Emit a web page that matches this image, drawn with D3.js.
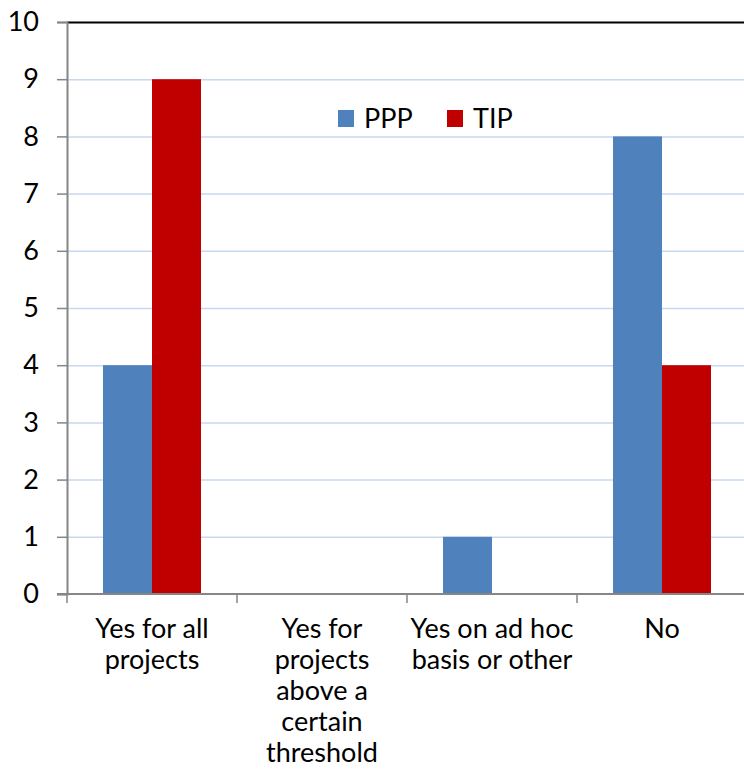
<!DOCTYPE html>
<html>
<head>
<meta charset="utf-8">
<script src="https://cdn.jsdelivr.net/npm/d3@7"></script>
<style>
  body { margin: 0; background: #fff; }
  svg { display: block; font-family: Lato, "Open Sans", sans-serif; }
</style>
</head>
<body>
<div id="chart"></div>
<script>
const categories = [
  ['Yes for all', 'projects'],
  ['Yes for', 'projects', 'above a', 'certain', 'threshold'],
  ['Yes on ad hoc', 'basis or other'],
  ['No']
];
const series = ['PPP', 'TIP'];
const pppValues = [4, 0, 1, 8];
const tipValues = [9, 0, 0, 4];
const yTicks = [0, 1, 2, 3, 4, 5, 6, 7, 8, 9, 10];

const colors = { PPP: '#4f81bd', TIP: '#c00000' };

const width = 744;
const height = 781;
const plot = { left: 67, top: 22, right: 747, bottom: 594 };
const fontSize = 27;

const svg = d3.select('#chart')
  .append('svg')
  .attr('width', width)
  .attr('height', height);

const x = d3.scaleBand()
  .domain(d3.range(categories.length))
  .range([plot.left, plot.right])
  .paddingInner(0)
  .paddingOuter(0);

const xInner = d3.scaleBand()
  .domain(series)
  .range([0, x.bandwidth()])
  .paddingInner(0)
  .paddingOuter(0.735);

const y = d3.scaleLinear()
  .domain([0, 10])
  .range([plot.bottom, plot.top]);

// gridlines
svg.append('g')
  .selectAll('line')
  .data(yTicks.filter(d => d > 0))
  .join('line')
  .attr('x1', plot.left)
  .attr('x2', plot.right)
  .attr('y1', d => y(d) + 0.5)
  .attr('y2', d => y(d) + 0.5)
  .attr('stroke', d => d === 10 ? '#000' : '#c6d9f1')
  .attr('stroke-width', d => d === 10 ? 2 : 1.5);

// bars
const rows = categories.map((c, i) => ({ i, PPP: pppValues[i], TIP: tipValues[i] }));
svg.append('g')
  .selectAll('g')
  .data(rows)
  .join('g')
  .attr('transform', d => `translate(${x(d.i)},0)`)
  .selectAll('rect')
  .data(d => series.map(s => ({ s, v: d[s] })))
  .join('rect')
  .attr('x', d => xInner(d.s))
  .attr('width', xInner.bandwidth())
  .attr('y', d => y(d.v))
  .attr('height', d => y(0) - y(d.v))
  .attr('fill', d => colors[d.s]);

// y axis
const yAxis = svg.append('g')
  .attr('transform', `translate(${plot.left},0)`)
  .call(d3.axisLeft(y).tickValues(yTicks).tickSize(10).tickPadding(18));
yAxis.select('.domain').attr('stroke', '#868686').attr('stroke-width', 2);
yAxis.selectAll('.tick line').attr('stroke', '#868686').attr('stroke-width', 1.5);
yAxis.selectAll('.tick text')
  .attr('font-size', fontSize)
  .attr('font-family', 'Lato, "Open Sans", sans-serif')
  .attr('fill', '#000');

// x axis
const xAxisG = svg.append('g')
  .attr('transform', `translate(0,${plot.bottom})`);
xAxisG.append('line')
  .attr('x1', plot.left - 10)
  .attr('x2', plot.right)
  .attr('stroke', '#868686')
  .attr('stroke-width', 2);
xAxisG.selectAll('.cat-tick')
  .data(d3.range(categories.length + 1))
  .join('line')
  .attr('class', 'cat-tick')
  .attr('x1', d => d < categories.length ? x(d) : plot.right)
  .attr('x2', d => d < categories.length ? x(d) : plot.right)
  .attr('y1', 0)
  .attr('y2', 9)
  .attr('stroke', '#868686')
  .attr('stroke-width', 1.5);

const labels = svg.append('g')
  .attr('font-size', fontSize)
  .attr('text-anchor', 'middle')
  .attr('fill', '#000');
categories.forEach((lines, i) => {
  const t = labels.append('text')
    .attr('x', x(i) + x.bandwidth() / 2)
    .attr('y', 638);
  lines.forEach((ln, j) => {
    t.append('tspan')
      .attr('x', x(i) + x.bandwidth() / 2)
      .attr('dy', j === 0 ? 0 : 31)
      .text(ln);
  });
});

// legend
const legend = svg.append('g').attr('transform', 'translate(338,110)');
const legendX = d3.scalePoint().domain(series).range([0, 109]);
const item = legend.selectAll('g')
  .data(series)
  .join('g')
  .attr('transform', d => `translate(${legendX(d)},0)`);
item.append('rect')
  .attr('width', 16)
  .attr('height', 17)
  .attr('fill', d => colors[d]);
item.append('text')
  .attr('x', 26)
  .attr('y', 18)
  .attr('font-size', fontSize)
  .text(d => d);
</script>
</body>
</html>
